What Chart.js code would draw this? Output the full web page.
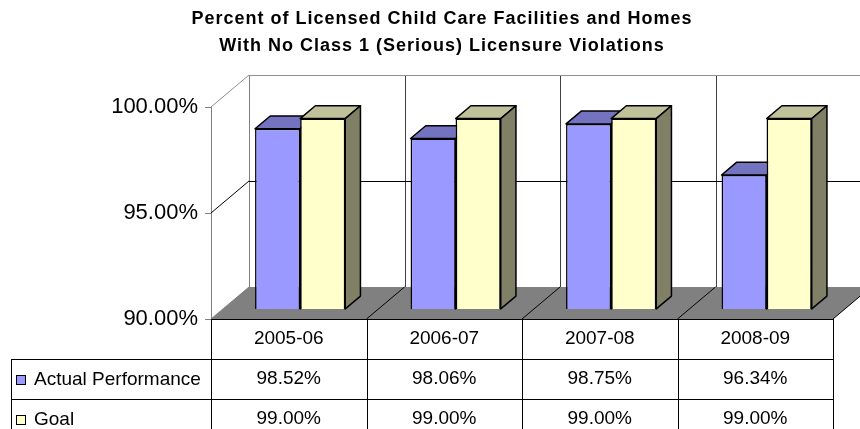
<!DOCTYPE html>
<html>
<head>
<meta charset="utf-8">
<script src="https://cdn.jsdelivr.net/npm/chart.js@4.4.1/dist/chart.umd.min.js"></script>
<style>
  html, body { margin: 0; padding: 0; background: #fff; }
  #wrap { width: 860px; height: 429px; position: relative; }
</style>
</head>
<body>
<div id="wrap"><canvas id="c" width="860" height="429"></canvas></div>
<script>
// ---- data ----
const TITLE_LINES = ['Percent of Licensed Child Care Facilities and Homes', 'With No Class 1 (Serious) Licensure Violations'];
const CATEGORIES = ['2005-06', '2006-07', '2007-08', '2008-09'];
const SERIES_NAMES = ['Actual Performance', 'Goal'];
const ACTUAL = [98.52, 98.06, 98.75, 96.34];
const GOAL = [99.00, 99.00, 99.00, 99.00];
const Y_MIN = 90, Y_MAX = 100, Y_STEP = 5;

// ---- styles ----
const FONT = '"Liberation Sans", Arial, sans-serif';
const FRONT_COLORS = ['#9999FF', '#FFFFCC'];
const TOP_COLORS = ['#7373C0', '#C0C09A'];
const SIDE_COLORS = ['#4D4D80', '#808066'];
const DEPTH = { dx: 38, dy: -32 };
const BAR_FRONT = 0.3, BAR_BACK = 0.7;
const ROW_H = 40;
const LEGEND_LEFT = 11;

const fmt = v => v.toFixed(2) + '%';

const threeD = {
  id: 'threeD',
  beforeDatasetsDraw(chart) {
    const { ctx, chartArea: a, scales: { x, y } } = chart;
    const { dx, dy } = DEPTH;
    const n = CATEGORIES.length;
    const yb = y.getPixelForValue(Y_MIN);
    const yt = y.getPixelForValue(Y_MAX);
    const bx = i => x.getPixelForValue(i - 0.5);
    ctx.save();
    ctx.lineWidth = 1;
    // floor
    ctx.fillStyle = '#808080';
    ctx.beginPath();
    ctx.moveTo(a.left, yb); ctx.lineTo(a.right, yb);
    ctx.lineTo(a.right + dx, yb + dy); ctx.lineTo(a.left + dx, yb + dy);
    ctx.closePath(); ctx.fill();
    // back wall vertical lines
    for (let i = 0; i <= n; i++) {
      const px = Math.round(bx(i) + dx) + 0.5;
      ctx.strokeStyle = i === 0 ? '#808080' : '#404040';
      ctx.beginPath(); ctx.moveTo(px, yt + dy); ctx.lineTo(px, yb + dy); ctx.stroke();
    }
    // horizontal gridlines on back wall + left wall
    const ticks = [];
    for (let v = Y_MIN + Y_STEP; v <= Y_MAX + 1e-9; v += Y_STEP) ticks.push(v);
    ticks.forEach(v => {
      const py = y.getPixelForValue(v);
      const isTop = Math.abs(v - Y_MAX) < 1e-9;
      ctx.strokeStyle = isTop ? '#909090' : '#000000';
      const hy = Math.round(py + dy) + 0.5;
      ctx.beginPath(); ctx.moveTo(a.left + dx, hy); ctx.lineTo(a.right + dx, hy); ctx.stroke();
      ctx.beginPath(); ctx.moveTo(a.left, py); ctx.lineTo(a.left + dx, py + dy); ctx.stroke();
    });
    // floor diagonals
    for (let i = 0; i <= n; i++) {
      ctx.strokeStyle = i === 0 ? '#808080' : '#000000';
      ctx.beginPath(); ctx.moveTo(bx(i), yb); ctx.lineTo(bx(i) + dx, yb + dy); ctx.stroke();
    }
    ctx.restore();
    ctx.save();
    ctx.translate(dx * BAR_FRONT, dy * BAR_FRONT);
  },
  afterDatasetsDraw(chart) {
    const { ctx } = chart;
    const { dx, dy } = DEPTH;
    const bdx = dx * (BAR_BACK - BAR_FRONT), bdy = dy * (BAR_BACK - BAR_FRONT);
    const metas = chart.getSortedVisibleDatasetMetas().slice().sort((m1, m2) => m1.index - m2.index);
    const n = CATEGORIES.length;
    for (let i = 0; i < n; i++) {
      metas.forEach((meta, k) => {
        const el = meta.data[i];
        if (!el) return;
        if (k > 0) el.draw(ctx);
        const L = el.x - el.width / 2, R = el.x + el.width / 2;
        const T = Math.min(el.y, el.base), B = Math.max(el.y, el.base);
        ctx.save();
        ctx.lineWidth = 1.5;
        ctx.lineJoin = 'round';
        ctx.strokeStyle = '#000';
        ctx.fillStyle = TOP_COLORS[meta.index];
        ctx.beginPath();
        ctx.moveTo(L, T); ctx.lineTo(R, T); ctx.lineTo(R + bdx, T + bdy); ctx.lineTo(L + bdx, T + bdy);
        ctx.closePath(); ctx.fill(); ctx.stroke();
        ctx.fillStyle = SIDE_COLORS[meta.index];
        ctx.beginPath();
        ctx.moveTo(R, T); ctx.lineTo(R + bdx, T + bdy); ctx.lineTo(R + bdx, B + bdy); ctx.lineTo(R, B);
        ctx.closePath(); ctx.fill(); ctx.stroke();
        ctx.restore();
      });
    }
    ctx.restore();
  },
  afterDraw(chart) {
    const { ctx, chartArea: a, scales: { x, y } } = chart;
    const n = CATEGORIES.length;
    const bx = i => x.getPixelForValue(i - 0.5);
    const top = y.getPixelForValue(Y_MIN);
    const r1 = top + ROW_H, r2 = r1 + ROW_H, r3 = r2 + ROW_H;
    ctx.save();
    ctx.lineWidth = 1;
    ctx.strokeStyle = '#000';
    const hl = (x1, x2, yy) => { ctx.beginPath(); ctx.moveTo(x1, Math.round(yy) + 0.5); ctx.lineTo(x2, Math.round(yy) + 0.5); ctx.stroke(); };
    const vl = (xx, y1, y2) => { ctx.beginPath(); ctx.moveTo(Math.round(xx) + 0.5, y1); ctx.lineTo(Math.round(xx) + 0.5, y2); ctx.stroke(); };
    hl(a.left, a.right, top);
    hl(LEGEND_LEFT, a.right, r1);
    hl(LEGEND_LEFT, a.right, r2);
    hl(LEGEND_LEFT, a.right, r3);
    for (let i = 0; i <= n; i++) vl(bx(i), top, r3);
    vl(LEGEND_LEFT, r1, r3);
    // texts
    ctx.fillStyle = '#000';
    ctx.font = '19px ' + FONT;
    ctx.textAlign = 'center';
    ctx.textBaseline = 'middle';
    const rows = [ACTUAL, GOAL];
    CATEGORIES.forEach((c, i) => {
      const cx = x.getPixelForValue(i);
      ctx.fillText(c, cx, top + ROW_H / 2);
      rows.forEach((arr, k) => ctx.fillText(fmt(arr[i]), cx, r1 + ROW_H * k + ROW_H / 2));
    });
    ctx.textAlign = 'left';
    SERIES_NAMES.forEach((name, k) => {
      const cy = r1 + ROW_H * k + ROW_H / 2 + 1;
      ctx.fillStyle = FRONT_COLORS[k];
      ctx.fillRect(16.5, cy - 4.5, 9, 9);
      ctx.strokeStyle = '#000';
      ctx.strokeRect(16.5, cy - 4.5, 9, 9);
      ctx.fillStyle = '#000';
      ctx.fillText(name, 34, cy);
    });
    // title
    ctx.font = 'bold 18px ' + FONT;
    ctx.textAlign = 'center';
    ctx.textBaseline = 'alphabetic';
    if ('letterSpacing' in ctx) ctx.letterSpacing = '1px';
    ctx.fillText(TITLE_LINES[0], 442, 24);
    ctx.fillText(TITLE_LINES[1], 442, 51);
    ctx.restore();
  }
};

new Chart(document.getElementById('c'), {
  type: 'bar',
  data: {
    labels: CATEGORIES,
    datasets: [
      { label: SERIES_NAMES[0], data: ACTUAL, base: Y_MIN, backgroundColor: FRONT_COLORS[0], borderColor: '#000', borderWidth: 1.5, clip: false },
      { label: SERIES_NAMES[1], data: GOAL, base: Y_MIN, backgroundColor: FRONT_COLORS[1], borderColor: '#000', borderWidth: 1.5, clip: false }
    ]
  },
  options: {
    responsive: false,
    animation: false,
    devicePixelRatio: 1,
    events: [],
    layout: { autoPadding: false, padding: { left: 0, top: 107, right: 27, bottom: 110 } },
    datasets: { bar: { categoryPercentage: 0.58, barPercentage: 1.0 } },
    plugins: { legend: { display: false }, title: { display: false }, tooltip: { enabled: false } },
    scales: {
      x: { display: false, offset: true },
      y: {
        min: Y_MIN, max: Y_MAX,
        afterFit: s => { s.width = 211; },
        ticks: { stepSize: Y_STEP, callback: v => fmt(v), font: { family: FONT, size: 22 }, color: '#000', padding: 7 },
        grid: { drawOnChartArea: false, drawTicks: true, tickLength: 6, color: '#808080' },
        border: { display: true, color: '#808080', width: 1 }
      }
    }
  },
  plugins: [threeD]
});
</script>
</body>
</html>
